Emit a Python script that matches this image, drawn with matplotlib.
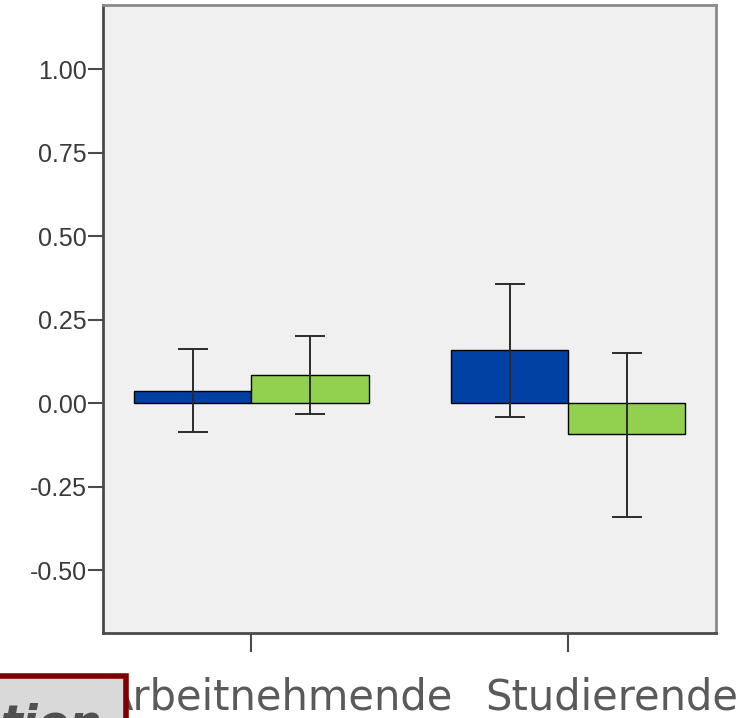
import numpy as np
import matplotlib.pyplot as plt
import matplotlib.transforms as mtransforms
from matplotlib.patches import Rectangle

# Group means with 95% CI bounds
categories = ["Arbeitnehmende", "Studierende"]
blue_vals = [0.038, 0.159]
green_vals = [0.085, -0.092]
blue_lo = [-0.086, -0.042]
blue_hi = [0.163, 0.357]
green_lo = [-0.032, -0.340]
green_hi = [0.202, 0.151]
yticks = [-0.50, -0.25, 0.00, 0.25, 0.50, 0.75, 1.00]

color_blue = "#0041A3"
color_green = "#92D050"
frame_gray = "#4a4a4a"

fig = plt.figure(figsize=(7.43, 7.18), dpi=100)
ax = fig.add_axes([0.139, 0.118, 0.8247, 0.875])
ax.set_facecolor("#F0F0F0")

x = np.arange(len(categories))
w = 0.37

blue_vals = np.array(blue_vals)
green_vals = np.array(green_vals)
ax.bar(x - w / 2, blue_vals, w, color=color_blue, edgecolor="black", linewidth=1, zorder=2)
ax.bar(x + w / 2, green_vals, w, color=color_green, edgecolor="black", linewidth=1, zorder=2)

err_kw = dict(fmt="none", ecolor="#2b2b2b", elinewidth=1.4, capsize=10.5, capthick=1.4, zorder=3)
ax.errorbar(x - w / 2, blue_vals,
            yerr=[blue_vals - np.array(blue_lo), np.array(blue_hi) - blue_vals], **err_kw)
ax.errorbar(x + w / 2, green_vals,
            yerr=[green_vals - np.array(green_lo), np.array(green_hi) - green_vals], **err_kw)

ax.set_xlim(-0.468, 1.467)
ax.set_ylim(-0.689, 1.193)
ax.set_yticks(yticks)
ax.set_yticklabels(["%.2f" % v for v in yticks], fontsize=18, family="Liberation Sans", color="#3a3a3a")
ax.tick_params(axis="y", length=11, width=1.5, color=frame_gray, pad=1)

ax.set_xticks(x)
ax.set_xticklabels(categories, fontsize=30, color="#5a5a5a", family="DejaVu Sans")
ax.tick_params(axis="x", length=14, width=1.5, color=frame_gray, pad=17)

# category labels sit a bit right of their ticks
for lab, dx in zip(ax.get_xticklabels(), [27, 44]):
    lab.set_transform(lab.get_transform() + mtransforms.ScaledTranslation(dx / 100, 0, fig.dpi_scale_trans))

for side in ["left", "bottom", "right", "top"]:
    ax.spines[side].set_color(frame_gray)
    ax.spines[side].set_linewidth(2)
ax.spines["top"].set_color("#8a8a8a")
ax.spines["right"].set_color("#8a8a8a")

# Cut-off label box in the lower left corner
fig.patches.append(Rectangle((-0.02, -0.05), 0.19, 0.109, transform=fig.transFigure,
                             facecolor="#D9D9D9", edgecolor="#7F0000", linewidth=4, zorder=5))
fig.text(0.137, -0.027, "tion", ha="right", va="baseline", fontsize=33,
         fontweight="bold", fontstyle="italic", color="#505050", zorder=6)

fig.savefig("out.png", dpi=100)
